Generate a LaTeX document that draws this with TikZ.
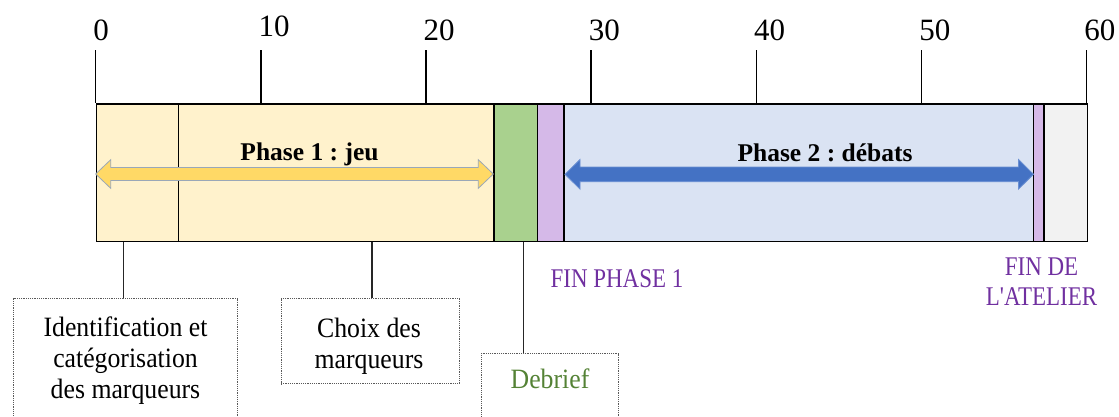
\documentclass[tikz,border=0pt]{standalone}
\usepackage{fontspec}
\setmainfont{Liberation Serif}
\newfontfamily\boxfont[FakeStretch=0.92]{Liberation Serif}
\newfontfamily\purplefont[FakeStretch=0.85]{Liberation Serif}
\definecolor{yellowbg}{HTML}{FFF2CC}
\definecolor{greenbg}{HTML}{A9D18E}
\definecolor{purplebg}{HTML}{D5B9E8}
\definecolor{bluebg}{HTML}{DAE3F3}
\definecolor{greybg}{HTML}{F2F2F2}
\definecolor{yellowarrow}{HTML}{FFD966}
\definecolor{yellowedge}{HTML}{9AA8B8}
\definecolor{bluearrow}{HTML}{4472C4}
\definecolor{blueedge}{HTML}{6A8FD2}
\definecolor{purpletext}{HTML}{7030A0}
\definecolor{greentext}{HTML}{548235}
\tikzset{
  seg/.style={draw=black, line width=1.5pt, inner sep=0pt, minimum height=137.4pt, anchor=north west},
  tickline/.style={draw=black, line width=1.5pt},
  ticklabel/.style={inner sep=0pt, anchor=base west, font=\fontsize{31}{36}\selectfont},
  phaselabel/.style={inner sep=0pt, anchor=base, font=\fontsize{25.5}{30}\selectfont\bfseries},
  connector/.style={draw=black!85, line width=1.6pt},
  dotbox/.style={draw=black!65, line width=1pt, dash pattern=on 1.2pt off 1pt, inner sep=0pt, anchor=north},
  boxtext/.style={inner sep=0pt, align=center, anchor=base, font=\boxfont\fontsize{28}{31}\selectfont},
  purplelabel/.style={inner sep=0pt, align=center, anchor=base, text=purpletext, font=\purplefont\fontsize{27}{30}\selectfont},
}
\begin{document}
\frenchspacing
\begin{tikzpicture}[x=1pt,y=-1pt]
\useasboundingbox (0,0) rectangle (1119,416);
% bar segments
\node[seg, fill=yellowbg, minimum width=397.6pt] (p1) at (95.7,103.3) {};
\node[seg, fill=greenbg,  minimum width=43.4pt]  (deb) at (493.3,103.3) {};
\node[seg, fill=purplebg, minimum width=26.6pt]  (fin1) at (536.7,103.3) {};
\node[seg, fill=bluebg,   minimum width=469.4pt] (p2) at (563.3,103.3) {};
\node[seg, fill=purplebg, minimum width=10.6pt]  (fin2) at (1032.7,103.3) {};
\node[seg, fill=greybg,   minimum width=43.4pt]  (rest) at (1043.3,103.3) {};
% divider inside phase 1
\coordinate (div) at (178.7,103.3);
\draw[tickline] (div) -- (div |- p1.south);
% ticks and labels
\foreach \k/\lab/\by in {0/0/40,1/10/36,2/20/40,3/30/40,4/40/40,5/50/40,6/60/40}{
  \coordinate (t\k) at (95.7+165.17*\k,50);
  \draw[tickline] (t\k) -- (t\k |- p1.north);
  \node[ticklabel] (l\k) at (93.2+165.17*\k,\by) {\lab};
}
% block arrows
\filldraw[fill=yellowarrow, draw=yellowedge, line width=0.8pt, line join=miter]
  (95.7,174) -- (110.7,159.7) -- (110.7,167.5) -- (478.3,167.5) -- (478.3,159.7)
  -- (493.3,174) -- (478.3,188.3) -- (478.3,180.5) -- (110.7,180.5) -- (110.7,188.3) -- cycle;
\filldraw[fill=bluearrow, draw=blueedge, line width=0.8pt, line join=miter]
  (565,174.3) -- (580,159.5) -- (580,167) -- (1018.5,167) -- (1018.5,159.5)
  -- (1033.5,174.3) -- (1018.5,189.1) -- (1018.5,181.6) -- (580,181.6) -- (580,189.1) -- cycle;
% phase labels
\node[phaselabel] (ph1) at (309.5,160.7) {Phase 1 : jeu};
\node[phaselabel] (ph2) at (825,161) {Phase 2 : débats};
% boxes
\node[dotbox, minimum width=224.4pt, minimum height=130pt] (b1) at (125.5,298.3) {};
\node[dotbox, minimum width=178pt, minimum height=85pt] (b2) at (370,298.3) {};
\node[dotbox, minimum width=137.7pt, minimum height=100pt] (b3) at (549.9,353.3) {};
\node[boxtext] (t1) at (125.5,398) {Identification et\\catégorisation\\des marqueurs};
\node[boxtext] (t2) at (369,368) {Choix des\\marqueurs};
\node[boxtext, text=greentext] (t3) at (550,388) {Debrief};
% connectors
\coordinate (c1) at (123.3,298.3);
\coordinate (c2) at (371.7,298.3);
\coordinate (c3) at (523.3,353.3);
\draw[connector] (c1 |- p1.south) -- (c1);
\draw[connector] (c2 |- p1.south) -- (c2);
\draw[connector] (c3 |- deb.south) -- (c3);
% purple labels
\node[purplelabel] (f1) at (617,287) {FIN PHASE 1};
\node[purplelabel] (f2) at (1041.5,305.5) {FIN DE\\L'ATELIER};
\end{tikzpicture}
\end{document}
